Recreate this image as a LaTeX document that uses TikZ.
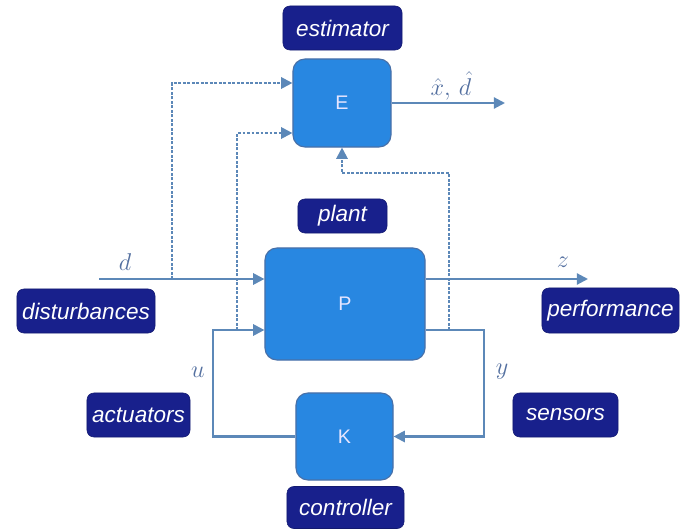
\documentclass[tikz,border=0pt]{standalone}
\usepackage{fontspec}
\setsansfont{Liberation Sans}
\usetikzlibrary{arrows.meta}

\definecolor{blockblue}{RGB}{40,135,225}
\definecolor{blockedge}{RGB}{72,112,168}
\definecolor{tagnavy}{RGB}{24,32,140}
\definecolor{wireblue}{RGB}{92,136,184}
\definecolor{mathblue}{RGB}{84,112,160}

\tikzset{
  block/.style={draw=blockedge, fill=blockblue, rounded corners=0.3cm, line width=0.8pt,
    inner sep=0pt, text=blue!10!white, font=\sffamily\fontsize{14}{16}\selectfont},
  tag/.style={draw=tagnavy!80!black, fill=tagnavy, rounded corners=0.17cm, inner sep=0pt,
    text=white, font=\sffamily\itshape\fontsize{16}{18}\selectfont},
  wire/.style={draw=wireblue, line width=1.5pt, -{Triangle[length=8pt,width=8pt]}},
  est/.style={wire, dash pattern=on 2pt off 1.2pt},
  sig/.style={text=mathblue, font=\fontsize{16}{18}\selectfont}
}

\begin{document}
\begin{tikzpicture}[x=0.025cm,y=-0.025cm]
\useasboundingbox (0,0) rectangle (681,530);

% blocks
\node[block, minimum width=2.45cm, minimum height=2.2cm] (E) at (342,103) {E};
\node[block, minimum width=4cm, minimum height=2.8cm] (P) at (345,304) {P};
\node[block, minimum width=2.425cm, minimum height=2.175cm] (K) at (344.5,436.5) {K};

% tags
\node[tag, minimum width=2.975cm, minimum height=1.1cm] (estTag) at (342.5,28) {estimator};
\node[tag, minimum width=2.225cm, minimum height=0.85cm] (plantTag) at (342.5,216) {plant};
\node[tag, minimum width=2.925cm, minimum height=1.05cm] (ctrlTag) at (345.5,507.5) {controller};
\node[tag, minimum width=3.45cm, minimum height=1.1cm] (distTag) at (86,311) {disturbances};
\node[tag, minimum width=3.425cm, minimum height=1.125cm] (perfTag) at (610.5,310.5) {performance};
\node[tag, minimum width=2.575cm, minimum height=1.1cm] (actTag) at (138.5,415) {actuators};
\node[tag, minimum width=2.625cm, minimum height=1.1cm] (sensTag) at (565.5,415) {sensors};

% signal labels
\node[sig] (dLbl) at (125,262) {$d$};
\node[sig] (zLbl) at (563,262) {$z$};
\node[sig] (uLbl) at (198,372) {$u$};
\node[sig] (yLbl) at (502,372) {$y$};
\node[sig] (estLbl) at (451,86) {$\hat{x},\,\hat{d}$};

% points on the wires
\coordinate (dIn) at (99,279);
\coordinate (dTap) at (172,279);
\coordinate (zOut) at (588,279);
\coordinate (uBend) at (213,330);
\coordinate (uTap) at (237,330);
\coordinate (yBend) at (484,330);
\coordinate (yTap) at (449,330);
\coordinate (yUp) at (449,173);
\coordinate (estOut) at (505,103);

% loop
\draw[wire] (dIn) -- (dIn -| P.west);
\draw[wire] (P.east |- zOut) -- (zOut);
\draw[wire] (K.west) -| (uBend) -- (uBend -| P.west);
\draw[wire] (P.east |- yBend) -- (yBend) |- (K.east);
\draw[wire] (E.east) -- (estOut);

% estimator inputs
\draw[est] (dTap) |- ([yshift=0.5cm]E.west);
\draw[est] (uTap) |- ([yshift=-0.75cm]E.west);
\draw[est] (yTap) -- (yUp) -| (E.south);
\end{tikzpicture}
\end{document}
